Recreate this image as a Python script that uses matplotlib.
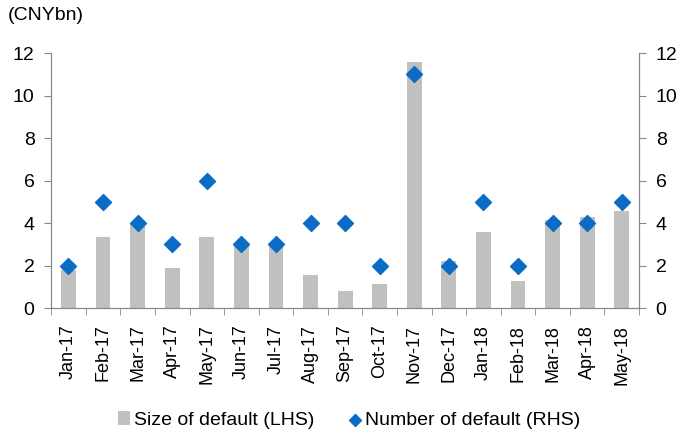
import matplotlib
matplotlib.use("Agg")
import matplotlib.pyplot as plt
import numpy as np

plt.rcParams['font.family'] = ['Liberation Sans', 'DejaVu Sans']

months = ["Jan-17", "Feb-17", "Mar-17", "Apr-17", "May-17", "Jun-17", "Jul-17", "Aug-17",
          "Sep-17", "Oct-17", "Nov-17", "Dec-17", "Jan-18", "Feb-18", "Mar-18", "Apr-18", "May-18"]
size_default = [1.8, 3.33, 3.95, 1.9, 3.33, 2.95, 3.0, 1.55, 0.8, 1.13, 11.56, 2.23, 3.6, 1.27, 4.15, 4.28, 4.56]
num_default = [2, 5, 4, 3, 6, 3, 3, 4, 4, 2, 11, 2, 5, 2, 4, 4, 5]

fig = plt.figure(figsize=(6.78, 4.32), dpi=100)
ax = fig.add_axes([0.0755, 0.287, 0.867, 0.590])
ax2 = ax.twinx()

x = np.arange(len(months))
ax.bar(x, size_default, width=0.43, color='#C0C0C0', label='Size of default (LHS)', zorder=1)
ax2.scatter(x, num_default, marker='D', s=66, color='#0A6CC4', edgecolors='#0A6CC4',
            label='Number of default (RHS)', zorder=3)

for a in (ax, ax2):
    a.set_ylim(0, 12)
    a.set_yticks(range(0, 13, 2))
    a.spines['top'].set_visible(False)
    for s in ('left', 'right', 'bottom'):
        a.spines[s].set_color('#888888')
    a.tick_params(axis='y', colors='#888888', labelcolor='black', labelsize=14, length=5, pad=7)
ax.set_xlim(-0.5, len(months) - 0.5)
ax.set_xticks(x)
ax.set_xticklabels(months, rotation=90, fontsize=13)
ax.set_xticks(np.arange(-0.5, len(months), 1), minor=True)
ax.tick_params(axis='x', which='major', length=0, pad=12)
ax.tick_params(axis='x', which='minor', length=5, color='#888888')
ax.set_zorder(1)
ax2.set_zorder(2)
ax.patch.set_visible(False)

fig.text(0.011, 0.963, '(CNYbn)', fontsize=14, ha='left', va='center')

h1, l1 = ax.get_legend_handles_labels()
h2, l2 = ax2.get_legend_handles_labels()
fig.legend(h1 + h2, l1 + l2, loc='center', bbox_to_anchor=(0.515, 0.028), ncol=2, frameon=False,
           fontsize=14, handlelength=0.6, handletextpad=0.2, columnspacing=1.8, markerscale=0.75,
           borderpad=0, borderaxespad=0)

fig.savefig('out.png', dpi=100)
